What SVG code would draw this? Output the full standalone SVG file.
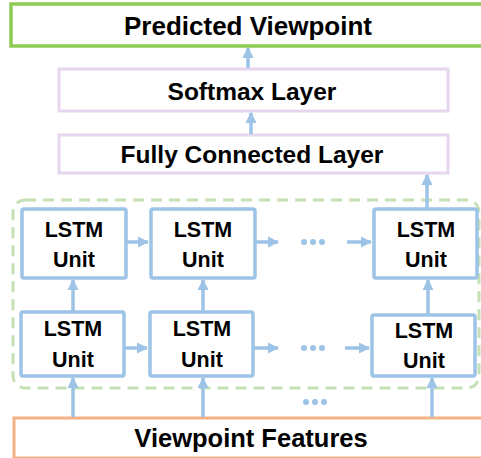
<svg xmlns="http://www.w3.org/2000/svg" width="481" height="458" viewBox="0 0 481 458">
<defs>
<style>
text{font-family:"Liberation Sans",Arial,sans-serif;font-weight:bold;fill:#000;text-anchor:middle}
.big{font-size:26px}
.vf{font-size:25.5px}
.mid{font-size:24.5px}
.unit{font-size:21.5px}
.lstm{fill:#fff;stroke:#9DC3E6;stroke-width:3.5}
.conn{stroke:#9DC3E6;stroke-width:3.5;fill:none}
.dots{fill:#9DC3E6}
</style>
<marker id="ah" viewBox="0 0 10 10" refX="9" refY="5" markerWidth="3.2" markerHeight="3.2" orient="auto" markerUnits="strokeWidth">
<path d="M0,0 L10,5 L0,10 z" fill="#9DC3E6"/>
</marker>
</defs>
<rect width="481" height="458" fill="#fff"/>
<rect id="container" x="13" y="200" width="466" height="188" rx="12" fill="none" stroke="#C5E0B4" stroke-width="3" stroke-dasharray="11 7"/>
<g id="predicted"><rect x="11" y="4" width="475" height="42" fill="#fff" stroke="#8DCB55" stroke-width="3.5"/><text class="big" x="248" y="35">Predicted Viewpoint</text></g>
<g id="softmax"><rect x="59" y="69" width="389" height="42" fill="#fff" stroke="#E6D6EE" stroke-width="3"/><text class="mid" x="252" y="100">Softmax Layer</text></g>
<g id="fc"><rect x="59" y="135" width="389" height="38" fill="#fff" stroke="#E6D6EE" stroke-width="3"/><text class="mid" x="252" y="163">Fully Connected Layer</text></g>
<g id="lstm11"><rect class="lstm" x="22" y="209" width="104" height="69" rx="2"/><text class="unit" x="74" y="237">LSTM</text><text class="unit" x="74" y="267">Unit</text></g>
<g id="lstm12"><rect class="lstm" x="151" y="209" width="104" height="69" rx="2"/><text class="unit" x="203" y="237">LSTM</text><text class="unit" x="203" y="267">Unit</text></g>
<g id="lstm13"><rect class="lstm" x="374" y="209" width="103" height="69" rx="2"/><text class="unit" x="426" y="237">LSTM</text><text class="unit" x="426" y="267">Unit</text></g>
<g id="lstm21"><rect class="lstm" x="21" y="312" width="103" height="64" rx="2"/><text class="unit" x="73" y="336">LSTM</text><text class="unit" x="73" y="367">Unit</text></g>
<g id="lstm22"><rect class="lstm" x="150" y="312" width="103" height="64" rx="2"/><text class="unit" x="202" y="336">LSTM</text><text class="unit" x="202" y="367">Unit</text></g>
<g id="lstm23"><rect class="lstm" x="372" y="315" width="103" height="61" rx="2"/><text class="unit" x="424" y="338">LSTM</text><text class="unit" x="424" y="368">Unit</text></g>
<g id="features"><rect x="14" y="418" width="475" height="40" fill="#fff" stroke="#F4B183" stroke-width="3"/><text class="vf" x="251" y="447">Viewpoint Features</text></g>
<g id="connectors">
<line class="conn" x1="248" y1="68" x2="248" y2="48" marker-end="url(#ah)"/>
<line class="conn" x1="251" y1="134" x2="251" y2="113" marker-end="url(#ah)"/>
<line class="conn" x1="427" y1="208" x2="427" y2="175" marker-end="url(#ah)"/>
<line class="conn" x1="126" y1="242" x2="148" y2="242" marker-end="url(#ah)"/>
<line class="conn" x1="255" y1="242" x2="278" y2="242" marker-end="url(#ah)"/>
<line class="conn" x1="347" y1="242" x2="371" y2="242" marker-end="url(#ah)"/>
<line class="conn" x1="124" y1="348" x2="147" y2="348" marker-end="url(#ah)"/>
<line class="conn" x1="253" y1="348" x2="278" y2="348" marker-end="url(#ah)"/>
<line class="conn" x1="345" y1="348" x2="369" y2="348" marker-end="url(#ah)"/>
<line class="conn" x1="73" y1="311" x2="73" y2="280" marker-end="url(#ah)"/>
<line class="conn" x1="203" y1="311" x2="203" y2="280" marker-end="url(#ah)"/>
<line class="conn" x1="428" y1="314" x2="428" y2="280" marker-end="url(#ah)"/>
<line class="conn" x1="73" y1="417" x2="73" y2="378" marker-end="url(#ah)"/>
<line class="conn" x1="203" y1="417" x2="203" y2="378" marker-end="url(#ah)"/>
<line class="conn" x1="432" y1="417" x2="432" y2="378" marker-end="url(#ah)"/>
</g>
<g id="dots" class="dots">
<circle cx="304" cy="242" r="3"/><circle cx="313" cy="242" r="3"/><circle cx="322" cy="242" r="3"/>
<circle cx="304" cy="348" r="3"/><circle cx="313" cy="348" r="3"/><circle cx="322" cy="348" r="3"/>
<circle cx="306" cy="402" r="3"/><circle cx="315" cy="402" r="3"/><circle cx="324" cy="402" r="3"/>
</g>
</svg>
